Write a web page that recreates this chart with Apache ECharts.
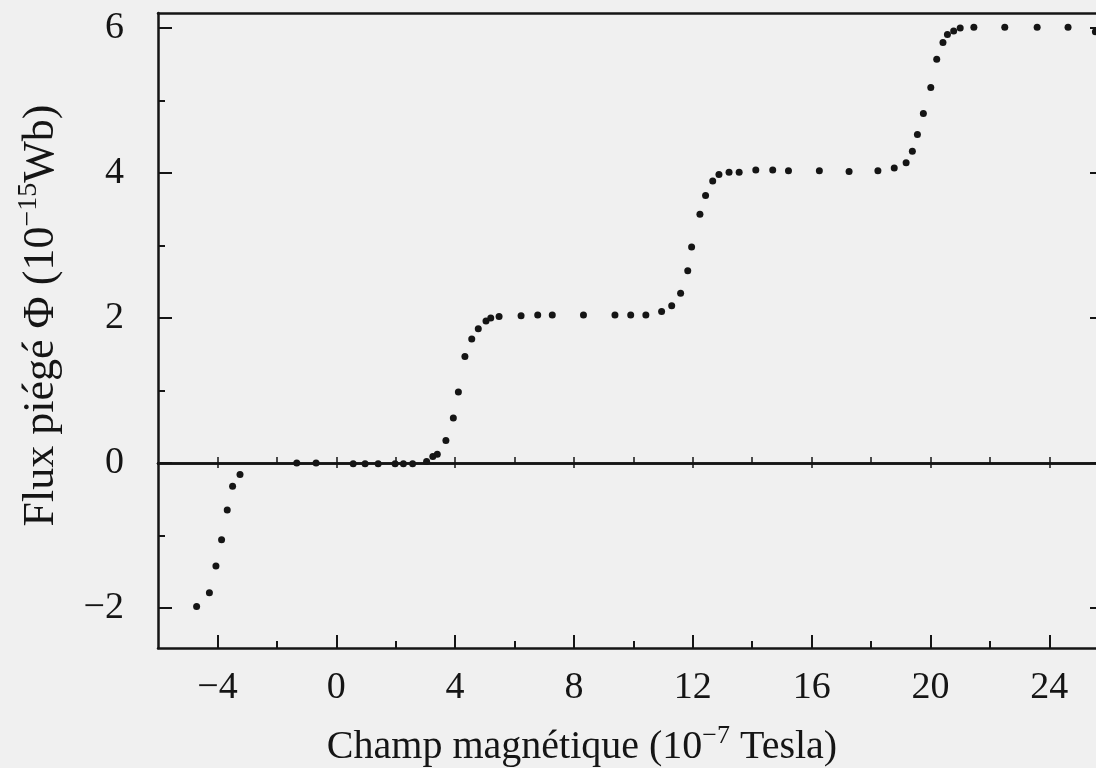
<!DOCTYPE html>
<html>
<head>
<meta charset="utf-8">
<script src="https://cdn.jsdelivr.net/npm/echarts@6/dist/echarts.min.js"></script>
<style>
  html, body { margin: 0; padding: 0; background: #f0f0f0; }
  #chart { width: 1096px; height: 768px; }
</style>
</head>
<body>
<div id="chart"></div>
<script>
// Champ magnétique appliqué (10^-7 T)
const champ = [
  -4.70, -4.27, -4.05, -3.86, -3.67, -3.49, -3.24,
  -1.33, -0.68, 0.57, 0.97, 1.41, 1.98, 2.26, 2.57,
  3.04, 3.25, 3.40, 3.69, 3.94, 4.11, 4.33, 4.56, 4.78, 5.04, 5.20, 5.48,
  6.22, 6.78, 7.27, 8.32, 9.38, 9.91, 10.42,
  10.95, 11.29, 11.59, 11.83, 11.96, 12.24, 12.43, 12.67, 12.88, 13.22, 13.56,
  14.12, 14.69, 15.22, 16.26, 17.26, 18.23,
  18.78, 19.18, 19.39, 19.56, 19.76, 20.01, 20.21, 20.42, 20.57, 20.78, 21.00,
  21.46, 22.50, 23.59, 24.63, 25.55
];
// Flux piégé mesuré (10^-15 Wb)
const flux = [
  -1.98, -1.79, -1.42, -1.06, -0.65, -0.32, -0.16,
  0.00, 0.00, -0.01, -0.01, -0.01, -0.01, -0.01, -0.01,
  0.02, 0.09, 0.12, 0.31, 0.62, 0.98, 1.47, 1.71, 1.85, 1.96, 2.00, 2.02,
  2.03, 2.04, 2.04, 2.04, 2.04, 2.04, 2.04,
  2.09, 2.17, 2.34, 2.65, 2.98, 3.43, 3.69, 3.89, 3.98, 4.01, 4.01,
  4.04, 4.04, 4.03, 4.03, 4.02, 4.03,
  4.07, 4.14, 4.30, 4.53, 4.82, 5.18, 5.57, 5.80, 5.91, 5.96, 6.00,
  6.01, 6.01, 6.01, 6.01, 5.95
];

// Axis graduations
const xMajorTicks = [-4, 0, 4, 8, 12, 16, 20, 24];
const xMinorTicks = [-2, 2, 6, 10, 14, 18, 22];
const yMajorTicks = [-2, 0, 2, 4, 6];
const yMinorTicks = [-1, 1, 3, 5];
const xRange = [-6, 25.84];
const yRange = [-2.552, 6.207];

const ink = '#151515';
const serif = '"Liberation Serif", "DejaVu Serif", serif';
const fmt = v => (v < 0 ? '\u2212' + Math.abs(v) : String(v));

const points = champ.map((b, i) => [b, flux[i]]);

const xNameRich = {
  n: { fontFamily: serif, fontSize: 40, color: ink, lineHeight: 48 },
  s: { fontFamily: serif, fontSize: 26, color: ink, lineHeight: 26, verticalAlign: 'top' }
};
const yNameRich = {
  n: { fontFamily: serif, fontSize: 44, color: ink, lineHeight: 52 },
  s: { fontFamily: serif, fontSize: 28, color: ink, lineHeight: 28, verticalAlign: 'top' }
};

function frameX(extra) {
  return Object.assign({
    type: 'value', min: xRange[0], max: xRange[1],
    splitLine: { show: false },
    axisLine: { show: true, onZero: false, lineStyle: { color: ink, width: 2.5 } },
    axisTick: { show: false },
    axisLabel: { show: false }
  }, extra);
}
function frameY(extra) {
  return Object.assign({
    type: 'value', min: yRange[0], max: yRange[1],
    splitLine: { show: false },
    axisLine: { show: true, onZero: false, lineStyle: { color: ink, width: 2.5 } },
    axisTick: { show: false },
    axisLabel: { show: false }
  }, extra);
}

const chart = echarts.init(document.getElementById('chart'), null, { renderer: 'canvas' });
chart.setOption({
  backgroundColor: '#f0f0f0',
  animation: false,
  grid: { left: 158, top: 13, right: -8, bottom: 120, containLabel: false, outerBoundsMode: 'none' },
  xAxis: [
    frameX({
      position: 'bottom',
      axisTick: { show: true, inside: true, length: 13, customValues: xMajorTicks,
                  lineStyle: { color: ink, width: 2 } },
      axisLabel: { show: true, customValues: xMajorTicks, formatter: fmt, margin: 21,
                   fontFamily: serif, fontSize: 38, color: ink },
      name: '{n|Champ magnétique (10}{s|\u22127}{n| Tesla)}',
      nameLocation: 'middle', nameGap: 75,
      nameTextStyle: { rich: xNameRich, padding: [0, 98, 0, 0] }
    }),
    frameX({
      position: 'bottom',
      axisLine: { show: false, onZero: false },
      axisTick: { show: true, inside: true, length: 7, customValues: xMinorTicks,
                  lineStyle: { color: ink, width: 2 } }
    }),
    frameX({ position: 'top' }),
    // flux nul : droite de référence graduée
    frameX({
      position: 'bottom',
      axisLine: { show: true, onZero: true, onZeroAxisIndex: 0, lineStyle: { color: ink, width: 2.5 } },
      axisTick: { show: true, inside: true, length: 6,
                  customValues: xMajorTicks.concat(xMinorTicks),
                  lineStyle: { color: ink, width: 1.5 } }
    }),
    frameX({
      position: 'bottom',
      axisLine: { show: true, onZero: true, onZeroAxisIndex: 0, lineStyle: { color: ink, width: 2.5 } },
      axisTick: { show: true, inside: false, length: 5, customValues: xMajorTicks,
                  lineStyle: { color: ink, width: 1.5 } }
    })
  ],
  yAxis: [
    frameY({
      position: 'left',
      axisTick: { show: true, inside: true, length: 14, customValues: yMajorTicks,
                  lineStyle: { color: ink, width: 2 } },
      axisLabel: { show: true, customValues: yMajorTicks, formatter: fmt, margin: 34,
                   fontFamily: serif, fontSize: 38, color: ink },
      name: '{n|Flux piégé Φ (10}{s|\u221215}{n|Wb)}',
      nameLocation: 'middle', nameGap: 91, nameRotate: 90,
      nameTextStyle: { rich: yNameRich, padding: [0, 0, 0, 30] }
    }),
    frameY({
      position: 'left',
      axisLine: { show: false, onZero: false },
      axisTick: { show: true, inside: true, length: 7, customValues: yMinorTicks,
                  lineStyle: { color: ink, width: 2 } }
    }),
    frameY({
      position: 'right',
      axisTick: { show: true, inside: true, length: 14, customValues: yMajorTicks,
                  lineStyle: { color: ink, width: 2 } }
    }),
    frameY({
      position: 'right',
      axisLine: { show: false, onZero: false },
      axisTick: { show: true, inside: true, length: 7, customValues: yMinorTicks,
                  lineStyle: { color: ink, width: 2 } }
    })
  ],
  series: [{
    type: 'scatter',
    xAxisIndex: 0,
    yAxisIndex: 0,
    data: points,
    symbol: 'circle',
    symbolSize: 7,
    itemStyle: { color: ink, opacity: 1 },
    emphasis: { disabled: true },
    z: 5
  }]
});
</script>
</body>
</html>
